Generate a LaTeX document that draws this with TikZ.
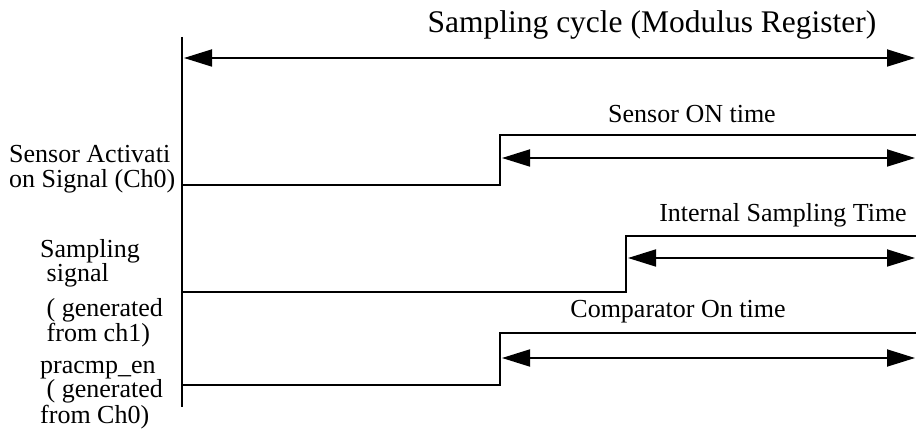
\documentclass[tikz,border=0pt]{standalone}
\usepackage{fontspec}
\setmainfont{Liberation Serif}
\usetikzlibrary{arrows.meta}

\begin{document}
\begin{tikzpicture}[
    x=1pt, y=-1pt,
    axis/.style={line width=2.6pt},
    wave/.style={line width=1.8pt},
    span/.style={{Triangle[length=28pt,width=17pt]}-{Triangle[length=28pt,width=17pt]}, line width=1.8pt},
    title/.style={font=\fontsize{31.5}{33}\selectfont, inner sep=0pt, anchor=base},
    lbl/.style={font=\fontsize{26}{25}\selectfont, inner sep=0pt, anchor=base},
    sig/.style={font=\fontsize{26}{25}\selectfont, inner sep=0pt, align=left, anchor=base west}
]
\useasboundingbox (0,0) rectangle (916,438);

% Time axis
\draw[axis] (182,37) -- (182,407);

% Sampling cycle
\coordinate (cycL) at (184,58);
\coordinate (cycR) at (915,58);
\draw[span] (cycL) -- (cycR);
\node[title] (cycle) at (652,33) {Sampling cycle (Modulus Register)};

% Sensor activation
\draw[wave] (182,185) -- (500,185) -- (500,135) -- (916,135);
\coordinate (senL) at (502,158);
\coordinate (senR) at (915,158);
\draw[span] (senL) -- (senR);
\node[lbl] (senon) at (692,123) {Sensor ON time};
\node[sig] (sensig) at (9,188) {Sensor Activati\\on Signal (Ch0)};

% Sampling signal
\draw[wave] (182,292) -- (626,292) -- (626,236) -- (916,236);
\coordinate (smpL) at (628,258);
\coordinate (smpR) at (915,258);
\draw[span] (smpL) -- (smpR);
\node[lbl] (smpon) at (783,222) {Internal Sampling Time};
\node[sig] (smpsig) at (40,342) {Sampling\\ \ signal\\[10pt] \ ( generated\\ \ from ch1)};

% Comparator enable
\draw[wave] (182,385) -- (500,385) -- (500,333) -- (916,333);
\coordinate (cmpL) at (502,358);
\coordinate (cmpR) at (915,358);
\draw[span] (cmpL) -- (cmpR);
\node[lbl] (cmpon) at (678,318) {Comparator On time};
\node[sig] (cmpsig) at (40,423) {pracmp\_en\\ \ ( generated\\from Ch0)};

\end{tikzpicture}
\end{document}
